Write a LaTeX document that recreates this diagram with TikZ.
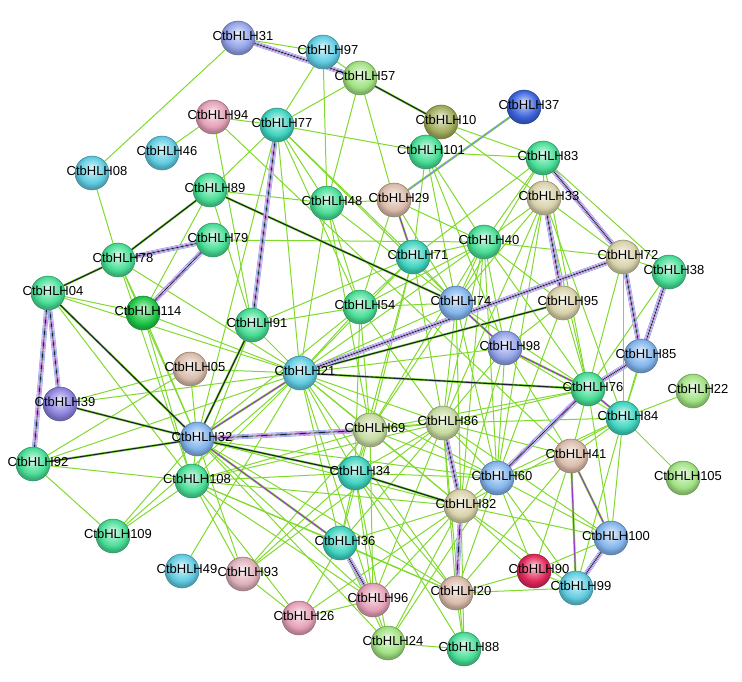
\documentclass[tikz,border=0pt]{standalone}
\usepackage{fontspec}
\setmainfont{Liberation Sans}
\pgfdeclarelayer{bg}
\pgfsetlayers{bg,main}
\definecolor{lnkgreen}{RGB}{128,218,46}
\definecolor{dkline}{RGB}{26,32,52}
\definecolor{purp}{RGB}{150,60,205}
\definecolor{bluline}{RGB}{125,145,240}
\definecolor{pgreen}{RGB}{72,222,150}
\definecolor{pteal}{RGB}{64,212,192}
\definecolor{pcyan}{RGB}{96,204,226}
\definecolor{pbright}{RGB}{30,200,70}
\definecolor{plime}{RGB}{160,226,130}
\definecolor{ppink}{RGB}{228,160,182}
\definecolor{pmauve}{RGB}{222,176,186}
\definecolor{ptan}{RGB}{218,188,170}
\definecolor{pbeige}{RGB}{216,210,170}
\definecolor{pkhaki}{RGB}{198,218,160}
\definecolor{polive}{RGB}{162,172,92}
\definecolor{pblue}{RGB}{60,100,220}
\definecolor{psky}{RGB}{130,180,236}
\definecolor{plav}{RGB}{146,162,232}
\definecolor{pviol}{RGB}{140,130,222}
\definecolor{pred}{RGB}{226,40,90}
\makeatletter
\pgfdeclareradialshading[tikz@ball]{sball}{\pgfqpoint{0bp}{7bp}}{%
  color(0bp)=(tikz@ball!12!white); color(9bp)=(tikz@ball!60!white);
  color(19bp)=(tikz@ball); color(25bp)=(tikz@ball!78!black);
  color(50bp)=(tikz@ball!78!black)}
\makeatother
\tikzset{
    prot/.style={circle, minimum size=34pt, inner sep=0pt, draw=#1!65!black,
        line width=0.5pt, ball color=#1, shading=sball},
    lbl/.style={font=\fontsize{13}{15}\selectfont, inner sep=0pt},
    lnk/.style={draw=lnkgreen, line width=1pt},
    dk/.style={draw=lnkgreen, line width=0.6pt, double=dkline, double distance=1.1pt},
    pur/.style={draw=lnkgreen, line width=0.6pt, double=purp, double distance=1pt},
    blu/.style={draw=lnkgreen, line width=0.6pt, double=bluline, double distance=1pt},
    bnd/.style={draw=dkline, line width=0.8pt,
        preaction={draw=bluline, line width=4.8pt},
        preaction={draw=white, line width=3.6pt},
        preaction={draw=purp, line width=2.6pt},
        preaction={draw=white, line width=1.6pt}},
}
\begin{document}
\begin{tikzpicture}[x=1pt, y=-1pt]
    \useasboundingbox (0,0) rectangle (742,682);
    % proteins
    \foreach \n/\x/\y/\c in {31/238/38/plav, 97/323/52/pcyan, 57/360/78/plime,
        94/213/117/ppink, 77/277/125/pteal, 46/162/153/pcyan, 08/92/173/pcyan,
        89/210/190/pgreen, 48/327/203/pgreen, 79/213/240/pgreen, 78/118/260/pgreen,
        04/48/293/pgreen, 114/143/313/pbright, 91/252/325/pgreen, 54/360/307/pgreen,
        10/441/122/polive, 37/524/107/pblue, 101/426/152/pgreen, 83/543/158/pgreen,
        29/394/200/ptan, 33/544/198/pbeige, 40/484/242/pgreen, 71/413/257/pteal,
        72/623/257/pbeige, 38/669/272/pgreen, 74/456/303/psky, 95/563/303/pbeige,
        98/505/348/plav, 05/190/369/ptan, 21/300/373/pcyan, 39/60/404/pviol,
        32/197/439/psky, 92/33/464/pgreen, 108/192/481/pgreen, 109/113/536/pgreen,
        49/182/571/pcyan, 93/243/574/pmauve, 26/299/618/ppink, 36/340/543/pteal,
        69/370/430/pkhaki, 34/355/473/pteal, 86/443/423/pkhaki, 60/497/478/psky,
        85/641/356/psky, 76/588/389/pgreen, 22/693/391/plime, 84/623/418/pteal,
        41/571/456/ptan, 105/683/478/plime, 82/461/506/pbeige, 100/611/538/psky,
        90/534/571/pred, 99/576/588/pcyan, 20/456/593/ptan, 96/373/600/ppink,
        24/388/643/plime, 88/464/649/pgreen}{
        \node[prot=\c] (h\n) at (\x,\y) {};
    }
    \foreach \n in {31,97,57,94,77,46,08,89,48,79,78,04,114,91,54,10,37,101,83,29,
        33,40,71,72,38,74,95,98,05,21,39,32,92,108,109,49,93,26,36,69,34,86,60,
        85,76,22,84,41,105,82,100,90,99,20,96,24,88}{
        \node[lbl, xshift=5pt, yshift=2pt] (t\n) at (h\n) {CtbHLH\n};
    }
    % interactions
    \begin{pgfonlayer}{bg}
    \foreach \a/\b in {31/08, 31/97, 97/57, 97/77, 97/48, 57/77, 57/29, 57/48,
        94/46, 94/77, 94/91, 94/41, 77/89, 77/48, 77/101, 77/21, 77/54, 77/71,
        77/74, 77/32, 89/48, 89/114, 89/91, 08/78, 78/114, 78/21, 78/32, 78/108,
        04/21, 04/108, 04/114, 114/32, 114/21, 114/108, 39/21, 39/05, 92/05,
        92/21, 92/108, 92/109, 05/21, 05/32, 91/21, 91/71, 91/54, 91/108, 48/54,
        48/21, 48/29, 48/74, 48/69, 79/40, 10/83, 10/33, 10/101, 101/83, 101/40,
        101/71, 101/74, 101/98, 29/40, 29/74, 29/54, 83/33, 83/40, 83/71, 83/38,
        83/74, 33/72, 33/40, 33/74, 33/98, 33/60, 33/86, 33/76, 33/84, 72/40,
        72/38, 72/76, 72/84, 38/84, 38/76, 85/84, 95/40, 95/98, 95/60, 71/40,
        71/74, 71/54, 71/21, 71/69, 71/86, 71/34, 40/74, 40/98, 40/86, 40/60,
        40/54, 40/21, 40/69, 40/82, 74/54, 74/86, 74/60, 74/21, 74/82, 74/69,
        98/86, 98/60, 98/82, 98/21, 98/84, 98/41, 54/21, 54/69, 54/34, 54/86,
        54/32, 21/69, 21/34, 21/36, 21/86, 21/82, 21/60, 21/108, 21/109, 21/49,
        21/96, 21/20, 32/108, 32/86, 32/82, 32/60, 32/96, 32/93, 32/24, 32/20,
        108/109, 108/34, 108/36, 108/93, 108/96, 108/20, 108/82, 108/69, 108/86,
        108/26, 109/32, 93/26, 93/34, 93/86, 93/69, 26/96, 26/82, 26/36, 36/69,
        36/34, 36/82, 36/86, 36/20, 36/24, 96/24, 96/34, 96/69, 96/82, 96/86,
        24/88, 24/34, 24/82, 24/60, 88/20, 88/82, 88/34, 88/86, 20/90, 20/99,
        20/34, 20/60, 20/86, 20/41, 90/99, 90/100, 90/41, 90/60, 90/82, 99/60,
        99/84, 99/82, 100/84, 100/76, 100/60, 100/82, 100/86, 41/84, 41/60,
        41/76, 41/86, 105/84, 22/84, 84/60, 84/86, 84/82, 76/86, 76/69, 76/40,
        76/83, 76/95, 76/74, 60/86, 60/82, 60/69, 60/34, 82/69, 69/86, 69/34,
        34/86}{
        \draw[lnk] (h\a) -- (h\b);
    }
    \foreach \a/\b in {57/10, 89/74, 89/78, 78/04, 04/32, 39/32, 92/32, 91/32,
        95/21, 21/76, 34/82, 32/34}{
        \draw[dk] (h\a) -- (h\b);
    }
    \foreach \a/\b in {29/71, 74/98, 98/76, 76/84, 41/100, 41/99, 32/21, 32/36}{
        \draw[pur] (h\a) -- (h\b);
    }
    \draw[blu] (h37) -- (h29);
    \foreach \a/\b in {31/57, 77/91, 79/78, 79/114, 04/39, 04/92, 83/72, 33/95,
        72/85, 38/85, 72/21, 85/76, 76/60, 86/82, 82/20, 100/99, 32/69, 36/96}{
        \draw[bnd] (h\a) -- (h\b);
    }
    \end{pgfonlayer}
\end{tikzpicture}
\end{document}
